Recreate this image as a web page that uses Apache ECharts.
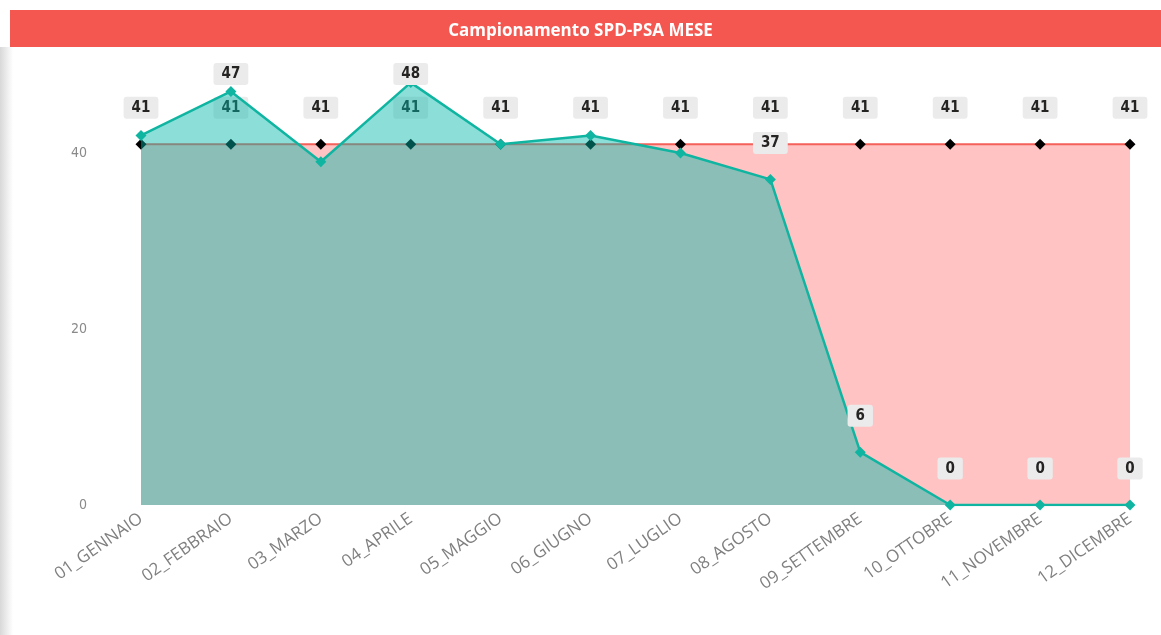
<!DOCTYPE html>
<html>
<head>
<meta charset="utf-8">
<script src="https://cdn.jsdelivr.net/npm/echarts@6/dist/echarts.min.js"></script>
<style>
  html, body { margin: 0; padding: 0; background: #fff; }
  #chart { width: 1161px; height: 635px; }
</style>
</head>
<body>
<div id="chart"></div>
<script>
// dati del grafico
var mesi = ['01_GENNAIO', '02_FEBBRAIO', '03_MARZO', '04_APRILE', '05_MAGGIO', '06_GIUGNO',
            '07_LUGLIO', '08_AGOSTO', '09_SETTEMBRE', '10_OTTOBRE', '11_NOVEMBRE', '12_DICEMBRE'];
var target = [41, 41, 41, 41, 41, 41, 41, 41, 41, 41, 41, 41];
var campionati = [42, 47, 39, 48, 41, 42, 40, 37, 6, 0, 0, 0];
var yTicks = [0, 20, 40];

var myChart = echarts.init(document.getElementById('chart'));

var labelFont = '"DejaVu Sans Condensed", Roboto, sans-serif';
var plotTop = 63;

// etichette dei campionati nascoste quando si sovrappongono a quelle del target
var campData = campionati.map(function (v, i) {
    return { value: v, label: { show: Math.abs(v - target[i]) >= 4 } };
});

var etichetta = {
    show: true, position: 'top', distance: 20,
    color: '#252423', fontSize: 15, fontWeight: 'bold', fontFamily: labelFont,
    backgroundColor: '#ebebeb', padding: [4, 8, 3, 8], borderRadius: 3
};

option = {
    animation: false,
    title: {
        text: 'Campionamento SPD-PSA MESE',
        left: 'center',
        top: 18,
        textStyle: { color: '#fff', fontSize: 17, fontWeight: 'bold', fontFamily: 'Open Sans' }
    },
    graphic: [
        { type: 'rect', z: -1, shape: { x: 10, y: 10, width: 1151, height: 37 }, style: { fill: '#f4574f' } },
        { type: 'rect', z: -1, shape: { x: 0, y: 47, width: 13, height: 588 },
          style: { fill: new echarts.graphic.LinearGradient(0, 0, 1, 0, [
              { offset: 0, color: '#d8d8d8' }, { offset: 1, color: '#ffffff' }]) } }
    ],
    grid: { left: 141, right: 31, top: 65, bottom: 130 },
    xAxis: {
        type: 'category',
        data: mesi,
        boundaryGap: false,
        axisLine: { show: false },
        axisTick: { show: false },
        axisLabel: { rotate: 35, color: '#7f7f7f', fontSize: 17, fontFamily: 'Open Sans', margin: 12 }
    },
    yAxis: {
        type: 'value',
        min: yTicks[0],
        max: 50,
        interval: 20,
        splitLine: { show: false },
        axisLabel: { color: '#8a8a8a', fontSize: 14, fontFamily: labelFont, margin: 54, showMaxLabel: false,
            formatter: function (v) { return yTicks.indexOf(v) >= 0 ? v : ''; } }
    },
    series: [
        {
            name: 'Target',
            type: 'line',
            data: target,
            symbol: 'diamond',
            symbolSize: 11,
            itemStyle: { color: '#000' },
            lineStyle: { color: '#f4605a', width: 2 },
            areaStyle: { color: '#fd625e', opacity: 0.38 },
            z: 3,
            label: etichetta
        },
        {
            name: 'Campionati',
            type: 'line',
            data: campData,
            symbol: 'diamond',
            symbolSize: 11,
            itemStyle: { color: '#10b5a2' },
            lineStyle: { color: '#10b5a2', width: 2.5 },
            areaStyle: { color: '#01b8aa', opacity: 0.45 },
            z: 4,
            label: etichetta,
            labelLayout: function (p) {
                if (p.labelRect.y < plotTop) {
                    return { x: p.labelRect.x, y: plotTop, align: 'left', verticalAlign: 'top' };
                }
            }
        }
    ]
};

myChart.setOption(option);
</script>
</body>
</html>
